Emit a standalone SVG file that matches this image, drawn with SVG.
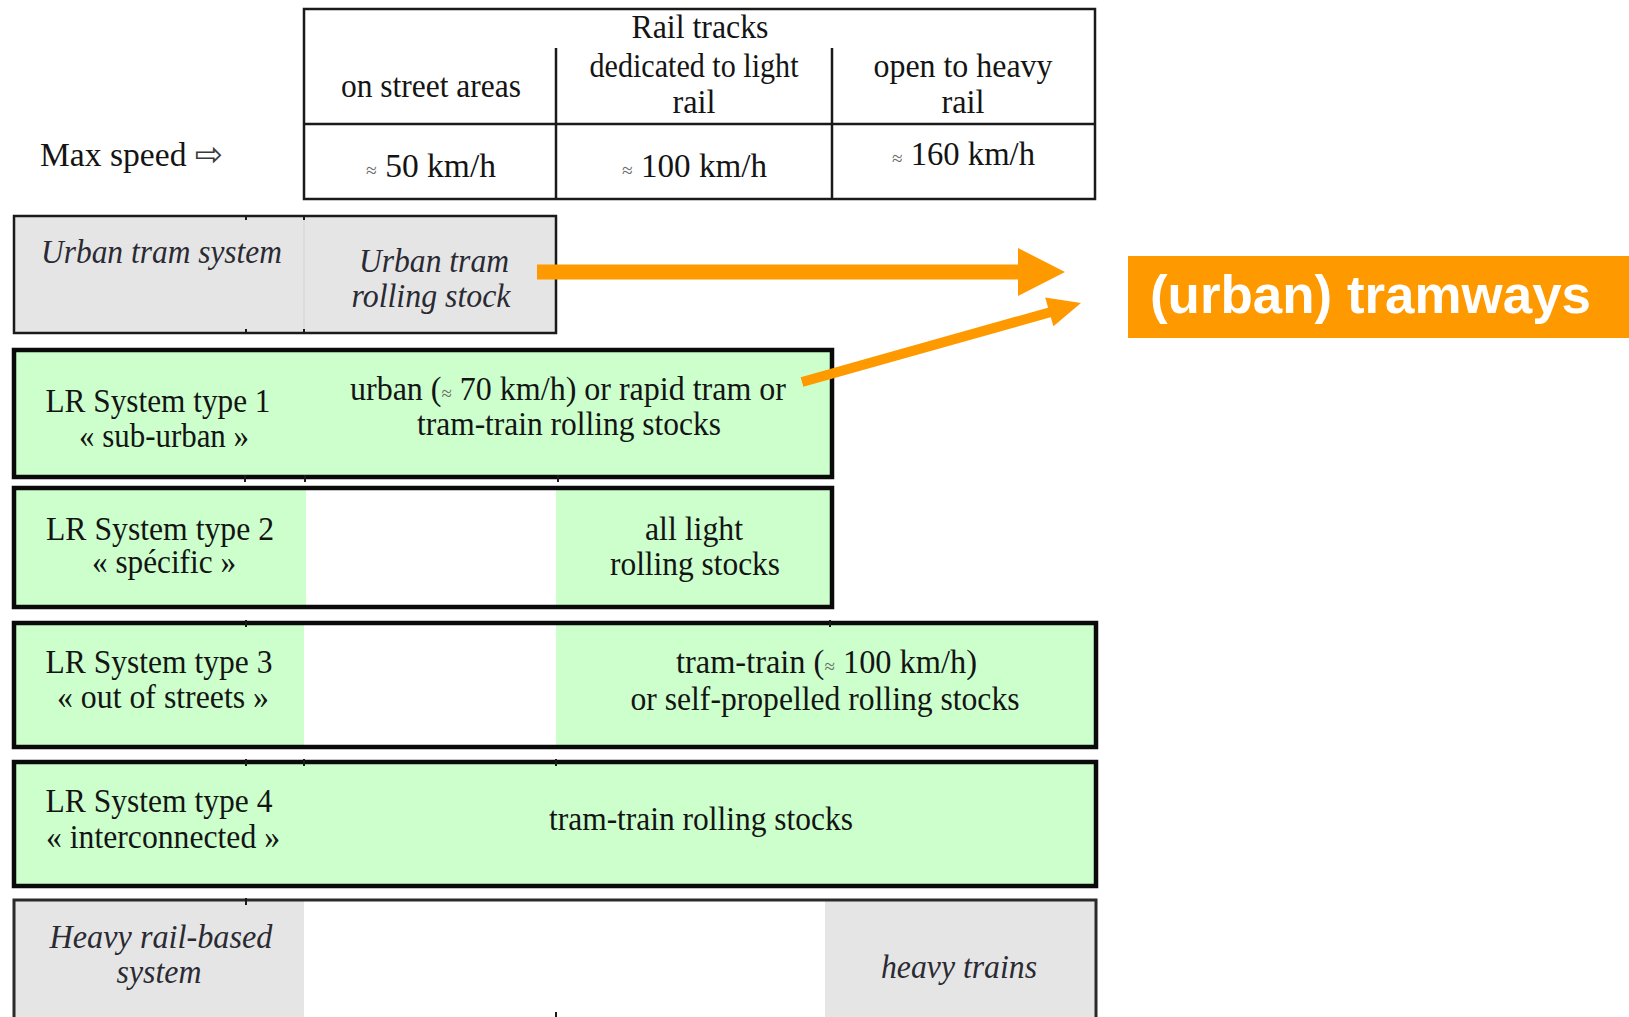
<svg xmlns="http://www.w3.org/2000/svg" width="1629" height="1017" viewBox="0 0 1629 1017">
  <defs>
    <style>
      .t { font-family: "Liberation Serif", "Times New Roman", serif; font-size: 34px; fill: #141414; }
      .i { font-family: "Liberation Serif", "Times New Roman", serif; font-size: 34px; font-style: italic; fill: #2a2a33; }
      .approx { font-size: 20px; fill: #6a6a6a; }
      .grid { stroke: #1a1a1a; stroke-width: 2.5; fill: none; }
      .thick { stroke: #0a0a0a; stroke-width: 4.5; fill: none; }
      .green { fill: #ccffcc; }
      .grey { fill: #e5e5e5; }
      .tick { stroke: #1a1a1a; stroke-width: 2; }
      .orange { fill: #ff9900; }
      .label { font-family: "Liberation Sans", Arial, sans-serif; font-weight: bold; font-size: 53px; fill: #ffffff; }
    </style>
  </defs>
  <rect width="1629" height="1017" fill="#ffffff"/>

  <!-- header: track categories and their speeds -->
  <g id="header">
    <rect class="grid" x="304" y="9" width="791" height="190"/>
    <line class="grid" x1="304" y1="124" x2="1095" y2="124"/>
    <line class="grid" x1="556" y1="48" x2="556" y2="199"/>
    <line class="grid" x1="832" y1="48" x2="832" y2="199"/>
    <text class="t" x="700" y="38" text-anchor="middle" textLength="137" lengthAdjust="spacingAndGlyphs">Rail tracks</text>
    <text class="t" x="431" y="97" text-anchor="middle" textLength="180" lengthAdjust="spacingAndGlyphs">on street areas</text>
    <text class="t" x="694" y="77" text-anchor="middle" textLength="209" lengthAdjust="spacingAndGlyphs">dedicated to light</text>
    <text class="t" x="694" y="113" text-anchor="middle" textLength="43" lengthAdjust="spacingAndGlyphs">rail</text>
    <text class="t" x="963" y="77" text-anchor="middle" textLength="179" lengthAdjust="spacingAndGlyphs">open to heavy</text>
    <text class="t" x="963" y="113" text-anchor="middle" textLength="43" lengthAdjust="spacingAndGlyphs">rail</text>
    <text class="t" x="366" y="177" textLength="130" lengthAdjust="spacingAndGlyphs"><tspan class="approx">≈</tspan> 50 km/h</text>
    <text class="t" x="622" y="177" textLength="145" lengthAdjust="spacingAndGlyphs"><tspan class="approx">≈</tspan> 100 km/h</text>
    <text class="t" x="892" y="165" textLength="143" lengthAdjust="spacingAndGlyphs"><tspan class="approx">≈</tspan> 160 km/h</text>
  </g>

  <g id="max-speed">
    <text class="t" x="40" y="166" textLength="183" lengthAdjust="spacingAndGlyphs">Max speed <tspan font-family="DejaVu Sans, sans-serif" font-size="34" fill="#3a3a3a">⇨</tspan></text>
  </g>

  <!-- urban tram system -->
  <g id="urban-tram">
    <rect class="grey" x="14" y="216" width="542" height="117"/>
    <line x1="304" y1="218" x2="304" y2="331" stroke="#d4d4d4" stroke-width="1"/>
    <rect x="14" y="216" width="542" height="117" fill="none" stroke="#1a1a1a" stroke-width="2.5"/>
    <line class="tick" x1="246" y1="215" x2="246" y2="220"/>
    <line class="tick" x1="304" y1="215" x2="304" y2="220"/>
    <line class="tick" x1="246" y1="329" x2="246" y2="334"/>
    <line class="tick" x1="304" y1="329" x2="304" y2="334"/>
    <text class="i" x="41" y="263" textLength="241" lengthAdjust="spacingAndGlyphs">Urban tram system</text>
    <text class="i" x="434" y="272" text-anchor="middle" textLength="150" lengthAdjust="spacingAndGlyphs">Urban tram</text>
    <text class="i" x="431" y="307" text-anchor="middle" textLength="159" lengthAdjust="spacingAndGlyphs">rolling stock</text>
  </g>

  <!-- LR system type 1 -->
  <g id="lr-type-1">
    <rect class="green" x="14" y="350" width="818" height="127"/>
    <rect class="thick" x="14" y="350" width="818" height="127"/>
    <line class="tick" x1="245" y1="475" x2="245" y2="482"/>
    <line class="tick" x1="305" y1="475" x2="305" y2="482"/>
    <line class="tick" x1="558" y1="475" x2="558" y2="482"/>
    <text class="t" x="158" y="412" text-anchor="middle" textLength="225" lengthAdjust="spacingAndGlyphs">LR System type 1</text>
    <text class="t" x="164" y="447" text-anchor="middle" textLength="170" lengthAdjust="spacingAndGlyphs">« sub-urban »</text>
    <text class="t" x="350" y="400" textLength="436" lengthAdjust="spacingAndGlyphs">urban (<tspan class="approx">≈</tspan> 70 km/h) or rapid tram or</text>
    <text class="t" x="569" y="435" text-anchor="middle" textLength="304" lengthAdjust="spacingAndGlyphs">tram-train rolling stocks</text>
  </g>

  <!-- LR system type 2 -->
  <g id="lr-type-2">
    <rect class="green" x="14" y="488" width="292" height="119"/>
    <rect class="green" x="556" y="488" width="276" height="119"/>
    <rect class="thick" x="14" y="488" width="818" height="119"/>
    <text class="t" x="160" y="540" text-anchor="middle" textLength="228" lengthAdjust="spacingAndGlyphs">LR System type 2</text>
    <text class="t" x="164" y="573" text-anchor="middle" textLength="144" lengthAdjust="spacingAndGlyphs">« spécific »</text>
    <text class="t" x="694" y="540" text-anchor="middle" textLength="98" lengthAdjust="spacingAndGlyphs">all light</text>
    <text class="t" x="695" y="575" text-anchor="middle" textLength="170" lengthAdjust="spacingAndGlyphs">rolling stocks</text>
  </g>

  <!-- LR system type 3 -->
  <g id="lr-type-3">
    <rect class="green" x="14" y="623" width="290" height="124"/>
    <rect class="green" x="556" y="623" width="540" height="124"/>
    <rect class="thick" x="14" y="623" width="1082" height="124"/>
    <line class="tick" x1="246" y1="620" x2="246" y2="627"/>
    <line class="tick" x1="830" y1="620" x2="830" y2="627"/>
    <text class="t" x="159" y="673" text-anchor="middle" textLength="227" lengthAdjust="spacingAndGlyphs">LR System type 3</text>
    <text class="t" x="163" y="708" text-anchor="middle" textLength="212" lengthAdjust="spacingAndGlyphs">« out of streets »</text>
    <text class="t" x="676" y="673" textLength="301" lengthAdjust="spacingAndGlyphs">tram-train (<tspan class="approx">≈</tspan> 100 km/h)</text>
    <text class="t" x="825" y="710" text-anchor="middle" textLength="389" lengthAdjust="spacingAndGlyphs">or self-propelled rolling stocks</text>
  </g>

  <!-- LR system type 4 -->
  <g id="lr-type-4">
    <rect class="green" x="14" y="762" width="1082" height="124"/>
    <rect class="thick" x="14" y="762" width="1082" height="124"/>
    <line class="tick" x1="246" y1="759" x2="246" y2="766"/>
    <line class="tick" x1="304" y1="759" x2="304" y2="766"/>
    <line class="tick" x1="556" y1="759" x2="556" y2="766"/>
    <text class="t" x="159" y="812" text-anchor="middle" textLength="227" lengthAdjust="spacingAndGlyphs">LR System type 4</text>
    <text class="t" x="163" y="848" text-anchor="middle" textLength="234" lengthAdjust="spacingAndGlyphs">« interconnected »</text>
    <text class="t" x="701" y="830" text-anchor="middle" textLength="304" lengthAdjust="spacingAndGlyphs">tram-train rolling stocks</text>
  </g>

  <!-- heavy rail-based system -->
  <g id="heavy-rail">
    <rect class="grey" x="14" y="900" width="290" height="130"/>
    <rect class="grey" x="825" y="900" width="271" height="130"/>
    <rect x="14" y="900" width="1082" height="130" fill="none" stroke="#2a2a2a" stroke-width="3"/>
    <line class="tick" x1="246" y1="898" x2="246" y2="905"/>
    <line class="tick" x1="556" y1="1012" x2="556" y2="1017"/>
    <text class="i" x="161" y="948" text-anchor="middle" textLength="223" lengthAdjust="spacingAndGlyphs">Heavy rail-based</text>
    <text class="i" x="159" y="983" text-anchor="middle" textLength="85" lengthAdjust="spacingAndGlyphs">system</text>
    <text class="i" x="959" y="978" text-anchor="middle" textLength="156" lengthAdjust="spacingAndGlyphs">heavy trains</text>
  </g>

  <!-- highlighted category -->
  <g id="tramways-label">
    <rect class="orange" x="1128" y="256" width="501" height="82"/>
    <text class="label" x="1150" y="313" textLength="441" lengthAdjust="spacingAndGlyphs">(urban) tramways</text>
  </g>

  <!-- arrows pointing at the category -->
  <g id="connectors">
    <rect class="orange" x="537" y="264.5" width="484" height="15"/>
    <polygon class="orange" points="1018,248 1065,272 1018,296"/>
    <line x1="802" y1="382" x2="1051" y2="312" stroke="#ff9900" stroke-width="10"/>
    <polygon class="orange" points="1081,303 1045.2,297.5 1053.4,326.3"/>
  </g>
</svg>
